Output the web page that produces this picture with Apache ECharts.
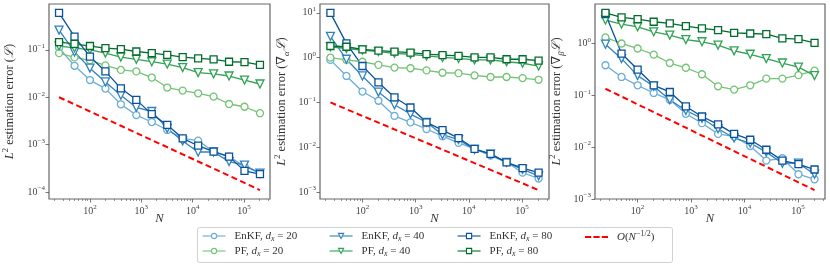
<!DOCTYPE html>
<html><head><meta charset="utf-8">
<script src="https://cdn.jsdelivr.net/npm/echarts@6/dist/echarts.min.js"></script>
<style>html,body{margin:0;padding:0;background:#fff}#c{width:830px;height:268px}</style>
</head><body><div id="c"></div>
<script>
// ---- data ----
const N = [25, 50, 100, 200, 400, 800, 1600, 3200, 6400, 12800, 25600, 51200, 102400, 204800];

// panel 1: L2 error of the log-likelihood
const enkf20_L = [0.11, 0.046, 0.023, 0.0152, 0.0071, 0.0042, 0.003, 0.00204, 0.00136, 0.00122, 0.00071, 0.00056, 0.00035, 0.00025];
const enkf40_L = [0.26, 0.09, 0.041, 0.021, 0.011, 0.0061, 0.005, 0.0022, 0.0012, 0.0007, 0.0007, 0.00044, 0.00037, 0.00025];
const enkf80_L = [0.6, 0.19, 0.072, 0.035, 0.0154, 0.0088, 0.0044, 0.0026, 0.00136, 0.00095, 0.00071, 0.00056, 0.00028, 0.00024];
const pf20_L = [0.085, 0.069, 0.06, 0.047, 0.0376, 0.035, 0.026, 0.016, 0.0138, 0.0121, 0.0103, 0.0072, 0.0063, 0.0046];
const pf40_L = [0.12, 0.11, 0.1, 0.085, 0.07, 0.063, 0.056, 0.05, 0.042, 0.033, 0.031, 0.028, 0.023, 0.019];
const pf80_L = [0.145, 0.133, 0.12, 0.108, 0.103, 0.092, 0.085, 0.078, 0.07, 0.066, 0.063, 0.056, 0.055, 0.048];
const ref_L = [0.01, 0.00707, 0.005, 0.00354, 0.0025, 0.00177, 0.00125, 0.000884, 0.000625, 0.000442, 0.000313, 0.000221, 0.000156, 0.00011];

// panel 2: gradient wrt alpha
const enkf20_a = [0.89, 0.39, 0.175, 0.109, 0.05, 0.036, 0.0255, 0.0176, 0.0125, 0.0092, 0.0065, 0.0046, 0.0027, 0.002];
const enkf40_a = [3.0, 0.92, 0.39, 0.17, 0.089, 0.055, 0.036, 0.019, 0.0148, 0.0089, 0.007, 0.0046, 0.0032, 0.0023];
const enkf80_a = [10, 2.08, 0.65, 0.28, 0.13, 0.077, 0.036, 0.024, 0.016, 0.0092, 0.0071, 0.0046, 0.0034, 0.0027];
const pf20_a = [1.0, 0.89, 0.81, 0.69, 0.6, 0.58, 0.52, 0.46, 0.45, 0.40, 0.37, 0.37, 0.35, 0.32];
const pf40_a = [1.75, 1.6, 1.48, 1.36, 1.25, 1.19, 1.09, 1.01, 0.96, 0.89, 0.89, 0.81, 0.75, 0.65];
const pf80_a = [1.82, 1.75, 1.53, 1.43, 1.36, 1.29, 1.2, 1.14, 1.09, 1.01, 1.01, 0.92, 0.92, 0.86];
const ref_a = [0.1, 0.0707, 0.05, 0.0354, 0.025, 0.0177, 0.0125, 0.00884, 0.00625, 0.00442, 0.00313, 0.00221, 0.00156, 0.0011];

// panel 3: gradient wrt beta
const enkf20_b = [0.38, 0.226, 0.156, 0.111, 0.082, 0.044, 0.029, 0.018, 0.016, 0.0105, 0.0055, 0.0061, 0.003, 0.0024];
const enkf40_b = [0.97, 0.51, 0.24, 0.15, 0.082, 0.051, 0.036, 0.0226, 0.015, 0.012, 0.008, 0.0049, 0.0049, 0.003];
const enkf80_b = [3.7, 0.64, 0.314, 0.156, 0.116, 0.061, 0.039, 0.0275, 0.018, 0.0139, 0.0089, 0.0055, 0.0047, 0.0037];
const pf20_b = [1.31, 1.0, 0.8, 0.61, 0.42, 0.34, 0.255, 0.149, 0.129, 0.156, 0.21, 0.21, 0.245, 0.30];
const pf40_b = [2.83, 2.37, 2.1, 1.68, 1.45, 1.19, 1.08, 0.93, 0.72, 0.62, 0.51, 0.42, 0.35, 0.24];
const pf80_b = [3.9, 3.19, 2.96, 2.63, 2.44, 2.16, 1.95, 1.81, 1.61, 1.56, 1.52, 1.25, 1.21, 1.03];
const ref_b = [0.134, 0.0948, 0.067, 0.0474, 0.0335, 0.0237, 0.01675, 0.01184, 0.008375, 0.00592, 0.004188, 0.002961, 0.002094, 0.00148];

// tick labels (exponents of 10)
const xTickExp = [2, 3, 4, 5];
const yTickExp = [[-4, -3, -2, -1], [-3, -2, -1, 0, 1], [-3, -2, -1, 0]];

// ---- styling ----
const SERIF = '"Liberation Serif", "DejaVu Serif", serif';
const TXT = '#333';
const st = {
  enkf20: {color: '#6baed6', symbol: 'circle', rot: 0, size: 7},
  enkf40: {color: '#3182bd', symbol: 'triangle', rot: 180, size: 8},
  enkf80: {color: '#08519c', symbol: 'rect', rot: 0, size: 7},
  pf20:   {color: '#74c476', symbol: 'circle', rot: 0, size: 7},
  pf40:   {color: '#31a354', symbol: 'triangle', rot: 180, size: 8},
  pf80:   {color: '#006d2c', symbol: 'rect', rot: 0, size: 7}
};
const panels = [
  {enkf20: enkf20_L, pf20: pf20_L, enkf40: enkf40_L, pf40: pf40_L, enkf80: enkf80_L, pf80: pf80_L, ref: ref_L},
  {enkf20: enkf20_a, pf20: pf20_a, enkf40: enkf40_a, pf40: pf40_a, enkf80: enkf80_a, pf80: pf80_a, ref: ref_a},
  {enkf20: enkf20_b, pf20: pf20_b, enkf40: enkf40_b, pf40: pf40_b, enkf80: enkf80_b, pf80: pf80_b, ref: ref_b}
];
const order = ['enkf20', 'pf20', 'enkf40', 'pf40', 'enkf80', 'pf80'];
const gridBox = [
  {left: 41, top: 4, width: 229, height: 195},
  {left: 320, top: 4, width: 229, height: 195},
  {left: 595, top: 4, width: 230, height: 195}
];
const yNames = [
  '{i|L}{sup|2}{r| estimation error (}{i|ℒ}{r|)}',
  '{i|L}{sup|2}{r| estimation error (∇}{sub|α}{i|ℒ}{r|)}',
  '{i|L}{sup|2}{r| estimation error (∇}{sub|β}{i|ℒ}{r|)}'
];
const nameRich = {
  r: {fontFamily: SERIF, fontSize: 12.5, color: TXT, lineHeight: 18, verticalAlign: 'middle'},
  i: {fontFamily: SERIF, fontStyle: 'italic', fontSize: 12.5, color: TXT, lineHeight: 18, verticalAlign: 'middle'},
  sup: {fontFamily: SERIF, fontSize: 8.5, color: TXT, lineHeight: 9, verticalAlign: 'top'},
  sub: {fontFamily: SERIF, fontSize: 8.5, fontStyle: 'italic', color: TXT, lineHeight: 9, verticalAlign: 'bottom'}
};
const tickRich = {
  b: {fontFamily: SERIF, fontSize: 10, color: '#444', lineHeight: 14, verticalAlign: 'middle'},
  s: {fontFamily: SERIF, fontSize: 7, color: '#444', lineHeight: 7, verticalAlign: 'top'}
};
function tickFmt(v) {
  const e = Math.round(Math.log10(v));
  return '{b|10}{s|' + String(e).replace('-', '−') + '}';
}
function logRange(arrs) {
  let lo = Infinity, hi = -Infinity;
  arrs.forEach(a => a.forEach(v => { const l = Math.log10(v); lo = Math.min(lo, l); hi = Math.max(hi, l); }));
  const m = 0.05 * (hi - lo);
  return [Math.pow(10, lo - m), Math.pow(10, hi + m)];
}
const xr = logRange([N]);
const xMinor = [];
for (let e = 1; e <= 5; e++) for (let k = 2; k <= 9; k++) { const v = k * Math.pow(10, e); if (v > xr[0] && v < xr[1]) xMinor.push(v); }

const grid = [], xAxis = [], yAxis = [], series = [];
panels.forEach((p, gi) => {
  grid.push(Object.assign({show: true, borderColor: '#666', borderWidth: 1.2, backgroundColor: 'transparent'}, gridBox[gi]));
  const yr = logRange(Object.values(p));
  xAxis.push({
    type: 'log', logBase: 10, gridIndex: gi, min: xr[0], max: xr[1],
    name: 'N', nameLocation: 'middle', nameGap: 13, nameMoveOverlap: false,
    nameTextStyle: {fontFamily: SERIF, fontStyle: 'italic', fontSize: 12.5, color: TXT},
    axisLine: {show: false}, splitLine: {show: false},
    axisTick: {show: true, length: 3.5, lineStyle: {color: '#555', width: 0.8}, customValues: xTickExp.map(e => Math.pow(10, e))},
    axisLabel: {show: true, margin: 5, formatter: tickFmt, rich: tickRich, customValues: xTickExp.map(e => Math.pow(10, e))}
  });
  xAxis.push({
    type: 'log', logBase: 10, gridIndex: gi, min: xr[0], max: xr[1], position: 'bottom',
    axisLine: {show: false}, splitLine: {show: false}, axisLabel: {show: false},
    axisTick: {show: true, length: 2, lineStyle: {color: '#555', width: 0.6}, customValues: xMinor}
  });
  yAxis.push({
    type: 'log', logBase: 10, gridIndex: gi, min: yr[0], max: yr[1],
    name: yNames[gi], nameLocation: 'middle', nameRotate: 90, nameGap: gi === 0 ? 30 : 29,
    nameTextStyle: {rich: nameRich},
    axisLine: {show: false}, splitLine: {show: false},
    axisTick: {show: true, length: 3.5, lineStyle: {color: '#555', width: 0.8}, customValues: yTickExp[gi].map(e => Math.pow(10, e))},
    axisLabel: {show: true, margin: 4, formatter: tickFmt, rich: tickRich, customValues: yTickExp[gi].map(e => Math.pow(10, e))}
  });
  order.forEach(k => {
    const s = st[k];
    series.push({
      name: k, type: 'line', xAxisIndex: gi * 2, yAxisIndex: gi,
      data: N.map((n, i) => [n, p[k][i]]),
      symbol: s.symbol, symbolSize: s.size, symbolRotate: s.rot, showSymbol: true,
      lineStyle: {color: s.color, width: 1.3},
      itemStyle: {color: '#fff', borderColor: s.color, borderWidth: 1.3},
      emphasis: {disabled: true}, silent: true
    });
  });
  series.push({
    name: 'ref', type: 'line', xAxisIndex: gi * 2, yAxisIndex: gi,
    data: N.map((n, i) => [n, p.ref[i]]),
    symbol: 'none', lineStyle: {color: '#ff0000', width: 2, type: [6, 3.5]},
    itemStyle: {color: '#ff0000'},
    emphasis: {disabled: true}, silent: true, z: 3
  });
});

const legendRich = {
  r: {fontFamily: SERIF, fontSize: 11, color: TXT, lineHeight: 14, verticalAlign: 'middle'},
  i: {fontFamily: SERIF, fontSize: 11, fontStyle: 'italic', color: TXT, lineHeight: 14, verticalAlign: 'middle'},
  sub: {fontFamily: SERIF, fontSize: 8, fontStyle: 'italic', color: TXT, lineHeight: 8, verticalAlign: 'bottom'},
  sup: {fontFamily: SERIF, fontSize: 8, color: TXT, lineHeight: 8, verticalAlign: 'top'},
  pad: {width: 4}
};
const legendText = {
  enkf20: '{pad|}{r|EnKF, }{i|d}{sub|x}{r| = 20}',
  enkf40: '{pad|}{r|EnKF, }{i|d}{sub|x}{r| = 40}',
  enkf80: '{pad|}{r|EnKF, }{i|d}{sub|x}{r| = 80}',
  pf20: '{pad|}{r|PF, }{i|d}{sub|x}{r| = 20}',
  pf40: '{pad|}{r|PF, }{i|d}{sub|x}{r| = 40}',
  pf80: '{pad|}{r|PF, }{i|d}{sub|x}{r| = 80}',
  ref: '{pad|}{i|O}{r|(}{i|N}{sup|−1/2}{r|)}'
};
const legendCols = [['enkf20', 'pf20'], ['enkf40', 'pf40'], ['enkf80', 'pf80'],
  [{name: 'ref', icon: 'path://M0,0h6.5v2h-6.5z M8.75,0h6.5v2h-6.5z M17.5,0h6.5v2h-6.5z'}]];
const legendLeft = [202, 329, 457, 585];
const legend = legendCols.map((cols, ci) => ({
  data: cols, orient: 'vertical', left: legendLeft[ci], top: 230,
  itemWidth: 23, itemHeight: 6.5, itemGap: 2, padding: 0,
  selectedMode: false, formatter: n => legendText[n],
  lineStyle: {width: 1.1}, itemStyle: {borderWidth: 1.1},
  textStyle: {rich: legendRich}
}));

const chart = echarts.init(document.getElementById('c'), null, {renderer: 'canvas'});
chart.setOption({
  animation: false, backgroundColor: '#fff',
  grid, xAxis, yAxis, series, legend,
  graphic: [{type: 'rect', shape: {x: 197.5, y: 227.5, width: 475, height: 35, r: 2}, style: {fill: 'none', stroke: '#d0d0d0', lineWidth: 1}, silent: true, z: 0}]
});
</script></body></html>
